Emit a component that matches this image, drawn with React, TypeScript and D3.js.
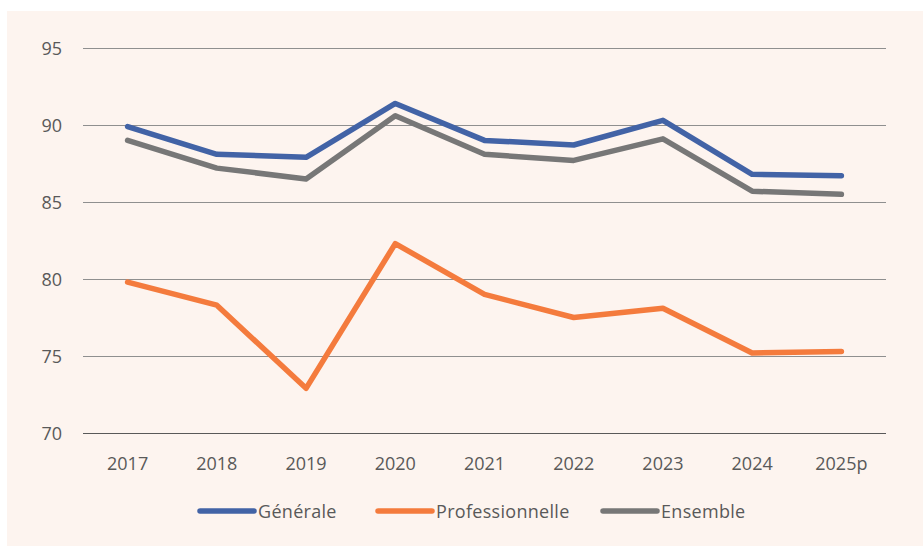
import { useEffect, useRef } from "react";
import * as d3 from "d3";

const years = ["2017", "2018", "2019", "2020", "2021", "2022", "2023", "2024", "2025p"];
const generale = [89.9, 88.1, 87.9, 91.4, 89.0, 88.7, 90.3, 86.8, 86.7];
const professionnelle = [79.8, 78.3, 72.9, 82.3, 79.0, 77.5, 78.1, 75.2, 75.3];
const ensemble = [89.0, 87.2, 86.5, 90.6, 88.1, 87.7, 89.1, 85.7, 85.5];
const yTicks = [70, 75, 80, 85, 90, 95];

const series = [
  { name: "Générale", values: generale, color: "#4263a6" },
  { name: "Professionnelle", values: professionnelle, color: "#f47b3d" },
  { name: "Ensemble", values: ensemble, color: "#777777" },
];

const FONT = "'Open Sans', sans-serif";

export default function App() {
  const ref = useRef<SVGSVGElement>(null);

  useEffect(() => {
    if (!ref.current) return;
    const svg = d3.select(ref.current);
    svg.selectAll("*").remove();

    const width = 923;
    const height = 546;
    const margin = { top: 48, right: 37, bottom: 113, left: 83 };

    svg.append("rect").attr("width", width).attr("height", height).attr("fill", "#ffffff");
    svg
      .append("rect")
      .attr("x", 7)
      .attr("y", 11)
      .attr("width", width - 7)
      .attr("height", height - 11)
      .attr("fill", "#fdf4ef");

    const x = d3
      .scaleBand()
      .domain(years)
      .range([margin.left, width - margin.right]);
    const y = d3
      .scaleLinear()
      .domain([70, 95])
      .range([height - margin.bottom, margin.top]);

    // gridlines
    svg
      .append("g")
      .selectAll("line")
      .data(yTicks)
      .join("line")
      .attr("x1", margin.left)
      .attr("x2", width - margin.right)
      .attr("y1", (d) => Math.round(y(d)) + 0.5)
      .attr("y2", (d) => Math.round(y(d)) + 0.5)
      .attr("stroke", (d) => (d === 70 ? "#595959" : "#8f8f8f"))
      .attr("stroke-width", 1.2);

    // y labels
    svg
      .append("g")
      .selectAll("text")
      .data(yTicks)
      .join("text")
      .attr("x", 62)
      .attr("y", (d) => y(d))
      .attr("text-anchor", "end")
      .attr("dominant-baseline", "central")
      .attr("fill", "#595959")
      .attr("font-family", FONT)
      .attr("font-size", 18)
      .text((d) => d);

    // x labels
    svg
      .append("g")
      .selectAll("text")
      .data(years)
      .join("text")
      .attr("x", (d) => (x(d) ?? 0) + x.bandwidth() / 2)
      .attr("y", 463)
      .attr("text-anchor", "middle")
      .attr("dominant-baseline", "central")
      .attr("fill", "#595959")
      .attr("font-family", FONT)
      .attr("font-size", 18)
      .text((d) => d);

    const line = d3
      .line<number>()
      .x((_, i) => (x(years[i]) ?? 0) + x.bandwidth() / 2)
      .y((d) => y(d));

    // draw orange, gray, then blue on top
    [series[1], series[2], series[0]].forEach((s) => {
      svg
        .append("path")
        .datum(s.values)
        .attr("d", line)
        .attr("fill", "none")
        .attr("stroke", s.color)
        .attr("stroke-width", 5.5)
        .attr("stroke-linejoin", "round")
        .attr("stroke-linecap", "round");
    });

    // legend
    const legendX = [200, 378, 603];
    const legendY = 511;
    const leg = svg
      .append("g")
      .selectAll("g")
      .data(series)
      .join("g")
      .attr("transform", (_, i) => `translate(${legendX[i]},${legendY})`);
    leg
      .append("line")
      .attr("x1", 0)
      .attr("x2", 54)
      .attr("stroke", (d) => d.color)
      .attr("stroke-width", 5.5)
      .attr("stroke-linecap", "round");
    leg
      .append("text")
      .attr("x", 58)
      .attr("dominant-baseline", "central")
      .attr("fill", "#595959")
      .attr("font-family", FONT)
      .attr("font-size", 18)
      .attr("letter-spacing", 0.3)
      .text((d) => d.name);
  }, []);

  return (
    <svg
      ref={ref}
      width={923}
      height={546}
      style={{ position: "absolute", left: 0, top: 0, display: "block" }}
    />
  );
}
